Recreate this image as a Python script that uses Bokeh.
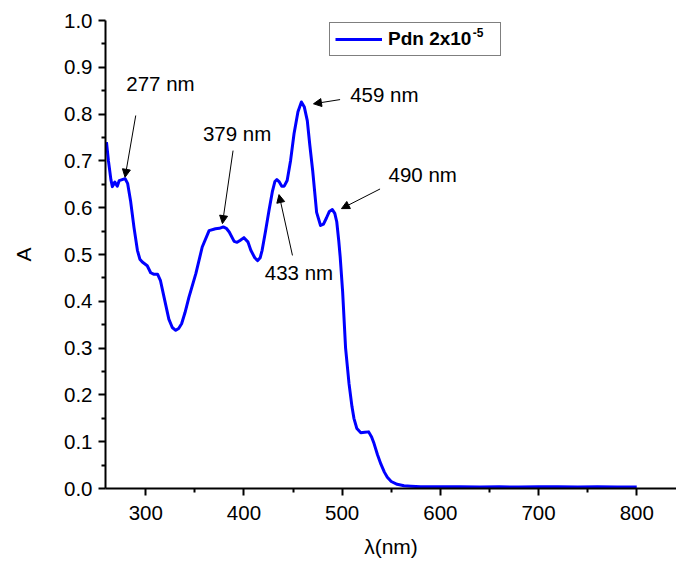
from bokeh.plotting import figure
from bokeh.models import (ColumnDataSource, Arrow, NormalHead, Legend, LegendItem,
                          Range1d, FixedTicker, CustomJSTickFormatter)
from bokeh.core.properties import value
from bokeh.embed import file_html
from bokeh.resources import INLINE

# ---- data ----
wavelength = [260, 262, 264.5, 266, 268.5, 271, 273, 276, 279, 281.5, 284.5, 288, 291.5, 294,
              296.5, 301.5, 305, 308, 312, 315, 318.5, 323.5, 327, 330.5, 333.5, 336.5, 340,
              344, 351, 357.5, 364.5, 371, 375, 379, 382, 385, 390, 393, 396, 400, 404, 407,
              411, 414, 416.5, 418.5, 422, 425.5, 429, 431.5, 433.5, 436, 438.5, 441, 444,
              447.5, 451, 455, 458.5, 461.5, 464.5, 467, 470, 474, 478, 481, 484, 487, 490,
              492.5, 494.5, 496.5, 498, 500.5, 503.5, 507, 510, 512, 515, 519, 523, 527, 530,
              532.5, 536, 539.5, 543, 546, 550, 556, 563, 570, 580, 600, 620, 640, 660, 680,
              700, 720, 740, 760, 780, 800]
absorbance = [0.740, 0.700, 0.660, 0.645, 0.655, 0.646, 0.658, 0.660, 0.662, 0.652, 0.615,
              0.558, 0.509, 0.490, 0.484, 0.476, 0.461, 0.458, 0.458, 0.444, 0.410, 0.362,
              0.344, 0.338, 0.342, 0.352, 0.376, 0.409, 0.459, 0.516, 0.551, 0.555, 0.556,
              0.559, 0.556, 0.548, 0.528, 0.526, 0.530, 0.536, 0.527, 0.509, 0.493, 0.487,
              0.493, 0.509, 0.550, 0.594, 0.635, 0.656, 0.660, 0.655, 0.646, 0.646, 0.658,
              0.701, 0.758, 0.805, 0.826, 0.815, 0.786, 0.735, 0.679, 0.590, 0.562, 0.565,
              0.578, 0.592, 0.596, 0.588, 0.570, 0.530, 0.495, 0.420, 0.300, 0.224, 0.175,
              0.150, 0.128, 0.119, 0.120, 0.121, 0.110, 0.096, 0.072, 0.052, 0.035, 0.024,
              0.015, 0.009, 0.006, 0.005, 0.004, 0.0035, 0.004, 0.003, 0.0035, 0.003, 0.004,
              0.0035, 0.003, 0.004, 0.003, 0.003]

series_label = "Pdn 2x10"
series_exponent = "-5"

peak_labels = ["277 nm", "379 nm", "433 nm", "459 nm", "490 nm"]
label_x = [315, 393, 456, 543, 582]
label_y = [0.865, 0.759, 0.462, 0.842, 0.670]
arrow_x0 = [289.8, 388.9, 449.4, 497.9, 538.6]
arrow_y0 = [0.797, 0.722, 0.498, 0.831, 0.640]
arrow_x1 = [278.9, 378.1, 435.7, 470.8, 499.3]
arrow_y1 = [0.665, 0.566, 0.628, 0.822, 0.598]

x_ticks = [300, 400, 500, 600, 700, 800]
x_minor = [250, 350, 450, 550, 650, 750, 850]
y_ticks = [0.0, 0.1, 0.2, 0.3, 0.4, 0.5, 0.6, 0.7, 0.8, 0.9, 1.0]
y_minor = [0.05, 0.15, 0.25, 0.35, 0.45, 0.55, 0.65, 0.75, 0.85, 0.95]

FONT = "Liberation Sans"

p = figure(output_backend="svg", toolbar_location=None,
           frame_width=571, frame_height=468,
           min_border_left=105, min_border_top=20, min_border_right=0, min_border_bottom=72,
           x_range=Range1d(259, 840.5), y_range=Range1d(0, 1.0))
p.background_fill_color = "white"
p.border_fill_color = "white"
p.outline_line_color = None
p.xgrid.visible = False
p.ygrid.visible = False

r = p.line(wavelength, absorbance, line_color="#0000FF", line_width=3, line_join="round")

src = ColumnDataSource(dict(x0=arrow_x0, y0=arrow_y0, x1=arrow_x1, y1=arrow_y1))
p.add_layout(Arrow(source=src, x_start="x0", y_start="y0", x_end="x1", y_end="y1",
                   line_color="black", line_width=1,
                   end=NormalHead(size=8, fill_color="black", line_color="black", line_width=1)))
p.text(x=label_x, y=label_y, text=peak_labels, text_font=value(FONT),
       text_font_size="20.5px", text_align="center", text_baseline="middle", text_color="black")

# superscript exponent of the legend label (legend background is transparent)
p.text(x=[633], y=[0.985], text=[series_exponent], text_font=value(FONT),
       text_font_size="12px", text_font_style="bold", text_align="left",
       text_baseline="top", text_color="black")

for ax in (p.xaxis[0], p.yaxis[0]):
    ax.axis_line_width = 2
    ax.axis_line_color = "black"
    ax.major_tick_line_width = 2
    ax.minor_tick_line_width = 2
    ax.major_tick_out = 7
    ax.major_tick_in = 0
    ax.minor_tick_out = 4
    ax.minor_tick_in = 0
    ax.major_label_text_font = FONT
    ax.major_label_text_font_size = "20.5px"
    ax.major_label_text_color = "black"
    ax.axis_label_text_font = FONT
    ax.axis_label_text_font_size = "21px"
    ax.axis_label_text_font_style = "normal"
    ax.axis_label_text_color = "black"

p.xaxis.ticker = FixedTicker(ticks=x_ticks, minor_ticks=x_minor)
p.yaxis.ticker = FixedTicker(ticks=y_ticks, minor_ticks=y_minor)
p.yaxis.formatter = CustomJSTickFormatter(code="return tick.toFixed(1);")
p.xaxis.axis_label = "\u03bb(nm)"
p.yaxis.axis_label = "A"
p.xaxis.major_label_standoff = 10
p.yaxis.major_label_standoff = 6
p.xaxis.axis_label_standoff = 12
p.yaxis.axis_label_standoff = 26

legend = Legend(items=[LegendItem(label=series_label, renderers=[r])],
                location=(224, 432), orientation="vertical",
                border_line_color="black", border_line_width=1.2,
                background_fill_alpha=0,
                glyph_width=47, glyph_height=20, label_height=20, label_width=107,
                padding=5, margin=0, spacing=0,
                label_standoff=6, label_text_font=FONT, label_text_font_size="19px",
                label_text_font_style="bold", label_text_color="black")
p.add_layout(legend)

open("out.html", "w").write(file_html(p, INLINE))
